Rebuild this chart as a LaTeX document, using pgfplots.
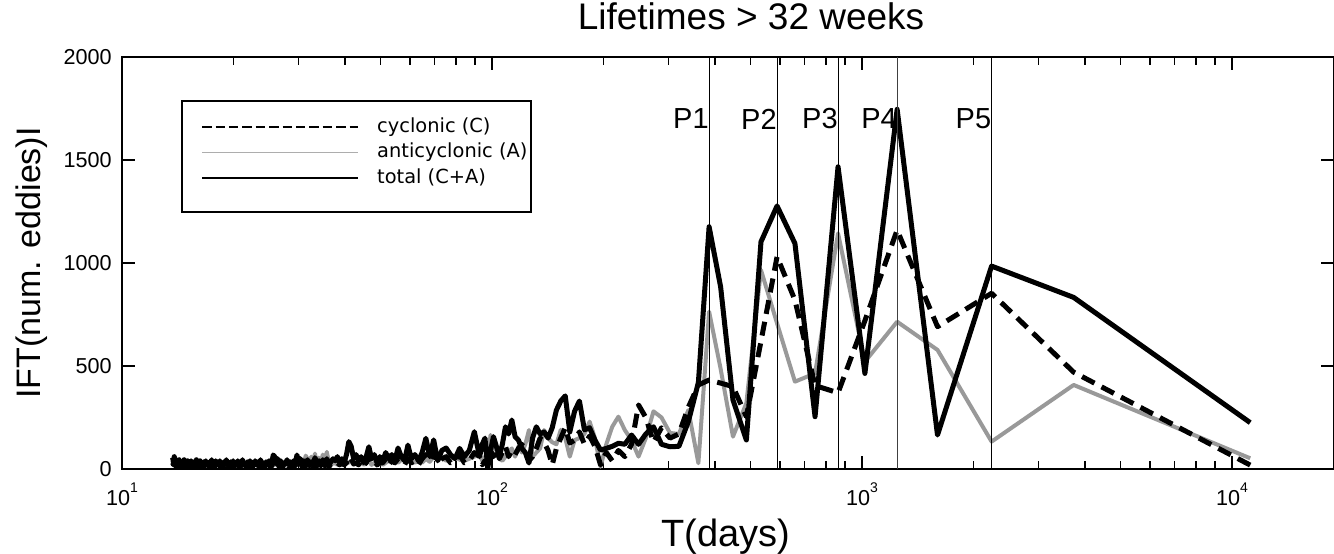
\documentclass[border=0pt]{standalone}
\usepackage{fontspec}
\setmainfont{Liberation Sans}
\newfontfamily\legfont{DejaVu Sans}
\usepackage{pgfplots}
\usepackage{pgfplotstable}
\pgfplotsset{compat=1.18}
\definecolor{agray}{rgb}{0.6,0.6,0.6}
\definecolor{lgray}{rgb}{0.68,0.68,0.68}
\newcommand\sep[1]{\raisebox{6.3pt}{\fontsize{7}{7}\selectfont #1}}
\pgfplotstableread{
j tot cyc ant
0 225 19 52
1 833 470 408
2 985 853 133
3 165 691 578
4 1746 1160 715
5 464 720 521
6 1467 370 1144
7 254 405 464
8 1095 820 424
9 1277 1031 707
10 1103 620 966
11 141 254 320
12 335 400 157
13 885 417 487
14 1176 432 764
15 420 408 28
16 230 300 286
17 110 170 170
18 108 150 175
19 120 200 250
20 205 130 280
21 170 250 150
22 120 311 60
23 165 120 140
24 120 60 189
25 125 90 254
26 110 40 205
27 100 80 120
28 92 20 11
29 140 110 150
30 200 160 230
31 190 120 170
32 330 180 150
33 280 140 140
34 180 126 60
35 355 200 150
36 330 150 190
37 286 100 120
38 200 20 130
39 150 90 150
40 180 130 189
41 170 150 100
42 205 100 80
43 150 60 60
44 29 40 189
45 80 90 120
46 100 120 80
47 140 100 110
48 157 70 60
49 238 90 100
50 170 60 80
51 205 110 60
52 120 80 40
53 60 50 50
54 110 100 90
55 157 60 110
56 90 90 165
57 5 20 60
58 150 40 60
59 120 20 40
60 60 60 70
62 181 80 60
64 90 40 50
66 60 30 40
68 100 70 45
70 50 40 60
72 70 30 50
74 102 60 40
76 90 50 55
78 40 30 45
80 141 80 60
82 60 40 35
84 149 70 50
86 80 50 30
88 40 20 45
90 70 40 30
92 50 30 45
94 116 50 40
96 40 20 50
98 60 40 44
100 102 50 30
102 40 30 44
104 70 40 35
106 50 20 40
108 80 50 30
110 40 30 20
112 60 30 35
114 30 20 25
116 70 40 30
118 50 30 20
120 108 60 40
122 60 30 30
124 30 20 20
126 60 40 35
128 40 20 25
130 70 30 30
132 50 25 20
134 110 50 40
136 133 60 30
138 70 30 35
140 30 20 20
142 50 30 30
144 30 20 25
146 60 30 20
148 40 25 30
150 50 20 25
152 35 25 40
154 20 10 30
156 50 30 83
158 25 15 40
160 45 30 70
162 15 10 30
164 40 25 55
166 30 15 25
168 55 30 75
170 20 10 30
172 35 20 60
174 15 10 20
176 45 25 50
178 25 15 65
180 40 20 30
182 20 10 40
184 50 30 25
186 30 15 45
188 68 35 30
190 25 15 40
192 40 25 20
194 15 10 35
196 35 20 25
198 20 10 30
200 45 25 20
202 25 15 35
204 30 20 15
206 12 5 25
208 40 25 20
210 20 10 30
212 50 30 15
214 25 15 30
216 60 35 20
218 68 30 35
220 30 15 20
222 15 10 25
224 40 25 15
226 20 10 30
228 35 20 20
230 10 5 25
232 30 20 15
234 20 10 30
236 45 25 20
238 15 10 25
240 35 20 15
242 25 15 30
244 40 25 20
246 15 10 25
248 30 20 15
250 20 10 30
252 40 25 20
254 25 15 25
256 35 20 15
258 10 5 25
260 30 20 20
262 20 10 30
264 45 25 15
266 25 15 25
268 35 20 20
270 15 10 30
272 40 25 15
274 20 10 25
276 30 20 20
278 12 5 30
280 40 25 15
282 25 15 25
284 35 20 20
286 15 10 30
288 30 20 15
290 20 10 25
292 45 25 20
294 25 15 30
296 35 20 15
298 10 5 25
300 30 20 20
302 20 10 30
304 40 25 15
306 15 10 25
308 35 20 20
310 25 15 30
312 40 25 15
314 15 10 25
316 30 20 20
318 20 10 30
320 45 25 15
322 25 15 25
324 35 20 20
326 12 5 30
328 30 20 15
330 20 10 25
332 40 25 20
334 25 15 30
336 35 20 15
338 15 10 25
340 30 20 20
342 20 10 30
344 40 25 15
346 15 10 25
348 35 20 20
350 25 15 30
352 45 25 15
354 20 10 25
356 30 20 20
358 10 5 30
360 35 20 15
362 20 10 25
364 40 25 20
366 25 15 30
368 35 20 15
370 15 10 25
372 40 25 20
374 20 10 30
376 30 20 15
378 15 10 25
380 45 25 20
382 25 15 30
384 35 20 15
386 10 5 25
388 30 20 20
390 20 10 30
392 45 25 15
394 25 15 25
396 35 20 20
398 15 10 30
400 45 25 20
402 25 15 30
404 60 30 25
406 30 20 35
408 55 30 30
}\datatab
\begin{document}
\begin{tikzpicture}
\path[use as bounding box] (0,0) rectangle (667pt,276.5pt);
\begin{axis}[
  at={(61pt,42pt)}, anchor=south west,
  width=606pt, height=206pt, scale only axis,
  xmode=log, xmin=10, xmax=18870, ymin=0, ymax=2000,
  axis line style={line width=1pt},
  tick style={black, line width=0.8pt},
  major tick length=6.5pt, minor tick length=3.8pt,
  xtick={10,100,1000,10000},
  xticklabels={{10\sep{1}},{10\sep{2}},{10\sep{3}},{10\sep{4}}},
  ytick={0,500,1000,1500,2000},
  yticklabels={0,500,1000,1500,2000},
  tick label style={font=\fontsize{10.8}{12}\selectfont},
  xticklabel style={anchor=base, yshift=-18pt, inner sep=0pt},
  yticklabel style={anchor=east, xshift=-5pt, inner sep=0pt},
  title={Lifetimes > 32 weeks},
  title style={font=\fontsize{18.5}{20}\selectfont, at={(0.519,1.0388)}, anchor=base, inner sep=0pt},
  xlabel={T(days)},
  xlabel style={font=\fontsize{19}{20}\selectfont, at={(0.498,-0.187)}, anchor=base, inner sep=0pt},
  ylabel={IFT(num. eddies)I},
  ylabel style={font=\fontsize{17}{20}\selectfont, at={(-0.0743,0.5)}, anchor=center, inner sep=0pt},
  legend image code/.code={\draw[#1] (0pt,0pt) -- (78pt,0pt);},
  legend cell align=left,
  legend style={draw=none, fill=none, at={(0.0652,0.8556)}, anchor=north west,
    inner sep=0pt, outer sep=0pt, font=\legfont\fontsize{9.7}{11}\selectfont,
    row sep=2.25pt,
    nodes={inner sep=0pt, text height=8pt, text depth=2.5pt},
    /tikz/every odd column/.append style={column sep=9pt}},
]
\draw[line width=0.85pt] (rel axis cs:0.0495,0.6238) rectangle (rel axis cs:0.3375,0.8932);
\addlegendimage{black, line width=1pt, dash pattern=on 4.7pt off 2pt}
\addlegendentry{cyclonic (C)}
\addlegendimage{lgray, line width=0.6pt}
\addlegendentry{anticyclonic (A)}
\addlegendimage{black, line width=1.1pt}
\addlegendentry{total (C+A)}
\addplot[agray, line width=2pt, line join=round, forget plot] table[x expr=11200/(2*\thisrow{j}+1), y=ant]{\datatab};
\addplot[black, line width=2.5pt, line join=round, dash pattern=on 7pt off 4pt, forget plot] table[x expr=11200/(2*\thisrow{j}+1), y=cyc]{\datatab};
\addplot[black, line width=2.5pt, line join=round, forget plot] table[x expr=11200/(2*\thisrow{j}+1), y=tot]{\datatab};
\addplot[black, line width=0.5pt, forget plot] coordinates {(386.2,0) (386.2,2000)};
\addplot[black, line width=0.5pt, forget plot] coordinates {(589.5,0) (589.5,2000)};
\addplot[black, line width=0.5pt, forget plot] coordinates {(861.5,0) (861.5,2000)};
\addplot[black!75, line width=0.5pt, forget plot] coordinates {(1244.4,0) (1244.4,2000)};
\addplot[black, line width=0.5pt, forget plot] coordinates {(2240,0) (2240,2000)};
\node[anchor=east, font=\fontsize{14.5}{16}\selectfont, inner sep=0pt] at (axis cs:386.2,1699) {P1\hspace{3.5pt}};
\node[anchor=east, font=\fontsize{14.5}{16}\selectfont, inner sep=0pt] at (axis cs:589.5,1699) {P2\hspace{4.5pt}};
\node[anchor=east, font=\fontsize{14.5}{16}\selectfont, inner sep=0pt] at (axis cs:861.5,1699) {P3\hspace{3pt}};
\node[anchor=east, font=\fontsize{14.5}{16}\selectfont, inner sep=0pt] at (axis cs:1244.4,1699) {P4\hspace{4.5pt}};
\node[anchor=east, font=\fontsize{14.5}{16}\selectfont, inner sep=0pt] at (axis cs:2240,1699) {P5\hspace{5pt}};
\end{axis}
\end{tikzpicture}
\end{document}
